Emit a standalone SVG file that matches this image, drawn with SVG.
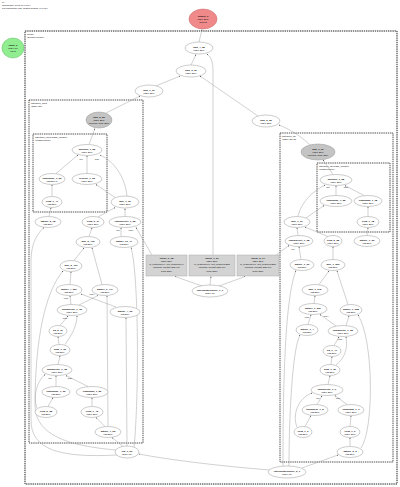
<svg xmlns="http://www.w3.org/2000/svg" width="400" height="487" viewBox="0 0 400 487">
<defs>
<marker id="ah" viewBox="0 0 6 6" refX="5.5" refY="3" markerWidth="3" markerHeight="3" orient="auto"><path d="M0,0 L6,3 L0,6 z" fill="#333"/></marker>
<style>
.n{fill:#fff;stroke:#999;stroke-width:0.5}
.gr{fill:#c4c4c4;stroke:#999;stroke-width:0.5}
.red{fill:#f08a8a;stroke:#c86464;stroke-width:0.5}
.grn{fill:#90ee90;stroke:#5cb85c;stroke-width:0.5}
.box{fill:#d3d3d3;stroke:#aaa;stroke-width:0.5}
.cl{fill:none;stroke:#222;stroke-width:0.8;stroke-dasharray:1.4 0.8}
.clo{stroke-width:1}
.t{font-family:"Liberation Sans",Arial,sans-serif;font-size:2.5px;text-anchor:middle;fill:#111}
.h{font-weight:bold}
.cll{font-family:"Liberation Sans",Arial,sans-serif;font-size:2.5px;fill:#111}
.el{font-family:"Liberation Sans",Arial,sans-serif;font-size:2px;fill:#222;text-anchor:middle}
.e{fill:none;stroke:#999;stroke-width:0.45;marker-end:url(#ah)}
</style>
</defs>
<rect width="400" height="487" fill="#fff"/>
<text class="cll" x="2" y="2.5">M</text>
<text class="cll" x="2" y="5.5">Showcase: feed (8.1.199)</text>
<text class="cll" x="2" y="8.5">PN parameter diff: Graph Nodes: 1,1,984</text>

<g id="clusters">
<rect class="cl clo" x="25" y="31" width="372" height="453"/>
<text class="cll" x="27" y="34.5">Model</text>
<text class="cll" x="27" y="37.5">(DummyModel)</text>
<rect class="cl" x="29" y="100" width="114" height="343"/>
<text class="cll" x="31" y="103.5">attention_mod</text>
<text class="cll" x="31" y="106.5">(SDPAttn)</text>
<rect class="cl" x="33" y="134" width="74" height="78"/>
<text class="cll" x="35" y="137.5">attention_mod.mask_module</text>
<text class="cll" x="35" y="140.5">(MaskModule)</text>
<rect class="cl" x="280" y="133" width="113" height="329"/>
<text class="cll" x="282" y="136.5">attention_as</text>
<text class="cll" x="282" y="139.5">(SDPAttnV2)</text>
<rect class="cl" x="317" y="163" width="73" height="69"/>
<text class="cll" x="319" y="166.5">attention_as.mask_module</text>
<text class="cll" x="319" y="169.5">(MaskModule)</text>
</g>

<g id="connectors">
<path class="e" d="M199,42 L202,29.5"/>
<path class="e" d="M191,65 L196,54.5"/>
<path class="e" d="M213,255 L213,70 Q213,58 207,54"/>
<path class="e" d="M156,86 L180,76"/>
<path class="e" d="M258,116 L200,76"/>
<path class="e" d="M106,113 L140,96"/>
<path class="e" d="M310,145 C300,135 287,128 279,125"/>
<path class="e" d="M89,144.5 L95,128.5"/>
<path class="e" d="M56,173.5 L78,155"/>
<path class="e" d="M87,173.5 L87,156"/>
<path class="e" d="M52,196 L52,185"/>
<path class="e" d="M115,197.5 L96,184.5"/>
<path class="e" d="M127,196 C125,175 112,160 100,155"/>
<path class="e" d="M98,217 L115,207.5"/>
<path class="e" d="M125,216.5 L125,208.5"/>
<path class="e" d="M152,255 L136,227.5"/>
<path class="e" d="M121,236.5 L121,228"/>
<path class="e" d="M49,216.5 L51,208"/>
<path class="e" d="M89,236.5 L92,228"/>
<path class="e" d="M74,260.5 L84,248"/>
<path class="e" d="M102,284.5 L92,248"/>
<path class="e" d="M70,284.5 L71,272"/>
<path class="e" d="M71,304.5 L70,296"/>
<path class="e" d="M79,305 L98,295.5"/>
<path class="e" d="M116,307 L81,294"/>
<path class="e" d="M60,325.5 L68,316"/>
<path class="e" d="M59,344.5 L58,337"/>
<path class="e" d="M65,344.5 C72,335 77,325 77,316"/>
<path class="e" d="M58,364.5 L60,356"/>
<path class="e" d="M56,386.5 L56,376"/>
<path class="e" d="M88,386.5 L66,375.5"/>
<path class="e" d="M48,406.5 L53,397.5"/>
<path class="e" d="M37,408 C33,398 36,382 45,374.5"/>
<path class="e" d="M92,406.5 L92,398"/>
<path class="e" d="M105,426.5 L96,417.5"/>
<path class="e" d="M123,446.5 L112,437.5"/>
<path class="e" d="M270,470 C220,466 170,460 139,454"/>
<path class="e" d="M116,450 C70,446 35,436 35,405 C35,340 45,292 63,271"/>
<path class="e" d="M117,455 C60,458 31,450 31,420 L31,262 C31,242 38,233 44,227.5"/>
<path class="e" d="M108,426 L107,296"/>
<path class="e" d="M127,446 L126,318"/>
<path class="e" d="M134,447 C139,400 139,275 131,247.5"/>
<path class="e" d="M333,174.5 L323,160"/>
<path class="e" d="M336,195.5 L336,186"/>
<path class="e" d="M364,195.5 L345,185.5"/>
<path class="e" d="M368,216.5 L368,207"/>
<path class="e" d="M298,216 C302,200 315,190 325,185"/>
<path class="e" d="M306,218 L324,205.5"/>
<path class="e" d="M298,235.5 L297,228"/>
<path class="e" d="M328,236.5 L305,227"/>
<path class="e" d="M367,235.5 L368,228"/>
<path class="e" d="M276,255 L289,245.5"/>
<path class="e" d="M333,259.5 L333,247"/>
<path class="e" d="M301,259.5 L299,247"/>
<path class="e" d="M319,284.5 L329,271"/>
<path class="e" d="M314,303.5 L315,296"/>
<path class="e" d="M348,304.5 L337,271"/>
<path class="e" d="M336,326 L320,314.5"/>
<path class="e" d="M346,325.5 L349,316"/>
<path class="e" d="M308,324.5 L311,315"/>
<path class="e" d="M334,345.5 L339,337"/>
<path class="e" d="M331,364.5 L332,357"/>
<path class="e" d="M336,365 C345,358 348,348 346,337"/>
<path class="e" d="M328,384.5 L330,376"/>
<path class="e" d="M317,404.5 L322,396"/>
<path class="e" d="M347,404.5 L335,395.5"/>
<path class="e" d="M305,426.5 L311,415.5"/>
<path class="e" d="M297,427 C292,415 298,398 312,393"/>
<path class="e" d="M350,426.5 L351,416"/>
<path class="e" d="M350,446.5 L350,438"/>
<path class="e" d="M302,468 L338,455"/>
<path class="e" d="M283,466.5 C283,400 284,300 296,270.5"/>
<path class="e" d="M289,466 C289,420 292,350 300,335"/>
<path class="e" d="M361,448 C374,430 374,340 358,315"/>
<path class="e" d="M202,286 L175,276.5"/>
<path class="e" d="M210,285 L211,276.5"/>
<path class="e" d="M219,286 L245,276.5"/>
<text class="el" x="81" y="160">self</text>
<text class="el" x="97" y="160">other</text>
<text class="el" x="118" y="231">self</text>
<text class="el" x="131" y="231">index</text>
<text class="el" x="66" y="299">input</text>
<text class="el" x="92" y="295">index</text>
<text class="el" x="65" y="319">input</text>
<text class="el" x="50" y="379">self</text>
<text class="el" x="70" y="379">other</text>
<text class="el" x="328" y="188">self</text>
<text class="el" x="346" y="188">other</text>
<text class="el" x="293" y="250">self</text>
<text class="el" x="307" y="318">input</text>
<text class="el" x="326" y="317">index</text>
<text class="el" x="340" y="340">input</text>
<text class="el" x="318" y="399">self</text>
<text class="el" x="338" y="399">other</text>
</g>

<g id="output_0"><ellipse class="red" cx="203" cy="19" rx="14" ry="10"/><text class="t" x="203" y="16.5"><tspan class="h">output_0</tspan><tspan x="203" dy="3">f32[1,256]</tspan><tspan x="203" dy="3">Output</tspan></text></g>
<g id="input_0"><ellipse class="grn" cx="13" cy="48" rx="11" ry="10"/><text class="t" x="13" y="45.5"><tspan class="h">input_0</tspan><tspan x="13" dy="3">f32[1,10]</tspan><tspan x="13" dy="3">Input</tspan></text></g>
<g id="add_4_38"><ellipse class="n" cx="199" cy="48" rx="14" ry="6"/><text class="t" x="199" y="47.5"><tspan class="h">add_4_38</tspan><tspan x="199" dy="3">f32[1,256]</tspan></text></g>
<g id="add_3_30"><ellipse class="n" cx="191" cy="71" rx="15" ry="6"/><text class="t" x="191" y="70.5"><tspan class="h">add_3_30</tspan><tspan x="191" dy="3">f32[1,256]</tspan></text></g>
<g id="add_1_31"><ellipse class="n" cx="149" cy="91" rx="14" ry="6"/><text class="t" x="149" y="90.5"><tspan class="h">add_1_31</tspan><tspan x="149" dy="3">f32[1,256]</tspan></text></g>
<g id="add_2_32"><ellipse class="n" cx="266" cy="121" rx="14" ry="6"/><text class="t" x="266" y="120.5"><tspan class="h">add_2_32</tspan><tspan x="266" dy="3">f32[1,256]</tspan></text></g>

<g id="linear_0_18"><rect class="box" x="146" y="255" width="41" height="21"/><text class="t" x="166.5" y="258.5"><tspan class="h">linear_0_18</tspan><tspan x="166.5" dy="3.3">f32[1,256]</tspan><tspan x="166.5" dy="3.3">in_features:64, out_features:64</tspan><tspan x="166.5" dy="3.3">params: weight [256,10]</tspan><tspan x="166.5" dy="3.3">bias [256]</tspan></text></g>
<g id="linear_1_27"><rect class="box" x="189" y="255" width="46" height="21"/><text class="t" x="212" y="258.5"><tspan class="h">linear_1_27</tspan><tspan x="212" dy="3.3">f32[1,256]</tspan><tspan x="212" dy="3.3">in_features:10, out_features:256</tspan><tspan x="212" dy="3.3">params: weight [256,10]</tspan><tspan x="212" dy="3.3">bias [256]</tspan></text></g>
<g id="linear_2_17"><rect class="box" x="237" y="255" width="42" height="21"/><text class="t" x="258" y="258.5"><tspan class="h">linear_2_17</tspan><tspan x="258" dy="3.3">f32[1,256]</tspan><tspan x="258" dy="3.3">in_features:10, out_features:256</tspan><tspan x="258" dy="3.3">params: weight [256,10]</tspan><tspan x="258" dy="3.3">bias [256]</tspan></text></g>
<g id="interpolatesource_1_1"><ellipse class="n" cx="210" cy="291" rx="18" ry="6"/><text class="t" x="210" y="290.5"><tspan class="h">interpolatesource_1_1</tspan><tspan x="210" dy="3">f32[1,10]</tspan></text></g>
<g id="flip_1_29"><ellipse class="n" cx="127" cy="452" rx="12" ry="6"/><text class="t" x="127" y="451.5"><tspan class="h">flip_1_29</tspan><tspan x="127" dy="3">f32[1,10]</tspan></text></g>
<g id="interpolatesource_2_1"><ellipse class="n" cx="287" cy="472" rx="19" ry="6"/><text class="t" x="287" y="471.5"><tspan class="h">interpolatesource_2_1</tspan><tspan x="287" dy="3">f32[1,10]</tspan></text></g>

<g id="add_2_23"><ellipse class="gr" cx="99" cy="120" rx="13" ry="8"/><text class="t" x="99" y="117.5"><tspan class="h">add_2_23</tspan><tspan x="99" dy="3">f32[1,256]</tspan><tspan x="99" dy="3">params: bias [256]</tspan></text></g>
<g id="multiply_1_52"><ellipse class="n" cx="87" cy="150" rx="15" ry="5.5"/><text class="t" x="87" y="149.5"><tspan class="h">multiply_1_52</tspan><tspan x="87" dy="3">f32[1,256]</tspan></text></g>
<g id="transpose_1_53"><ellipse class="n" cx="52" cy="179" rx="13" ry="5.5"/><text class="t" x="52" y="178.5"><tspan class="h">transpose_1_53</tspan><tspan x="52" dy="3">f32[256,1]</tspan></text></g>
<g id="reverse_1_53"><ellipse class="n" cx="87" cy="179" rx="15" ry="5.5"/><text class="t" x="87" y="178.5"><tspan class="h">reverse_1_53</tspan><tspan x="87" dy="3">f32[1,256]</tspan></text></g>
<g id="view_1_47"><ellipse class="n" cx="52" cy="202" rx="10" ry="5.5"/><text class="t" x="52" y="201.5"><tspan class="h">view_1_47</tspan><tspan x="52" dy="3">f32[256]</tspan></text></g>
<g id="mul_1_36"><ellipse class="n" cx="125" cy="202" rx="14" ry="6"/><text class="t" x="125" y="201.5"><tspan class="h">mul_1_36</tspan><tspan x="125" dy="3">f32[1,256]</tspan></text></g>
<g id="gather_5_18"><ellipse class="n" cx="48" cy="222" rx="13" ry="5.5"/><text class="t" x="48" y="221.5"><tspan class="h">gather_5_18</tspan><tspan x="48" dy="3">f32[256]</tspan></text></g>
<g id="view_3_17"><ellipse class="n" cx="93" cy="222" rx="11" ry="5.5"/><text class="t" x="93" y="221.5"><tspan class="h">view_3_17</tspan><tspan x="93" dy="3">f32[1,256]</tspan></text></g>
<g id="indexselect_1_38"><ellipse class="n" cx="125" cy="222" rx="16" ry="5.5"/><text class="t" x="125" y="221.5"><tspan class="h">indexselect_1_38</tspan><tspan x="125" dy="3">f32[1,256]</tspan></text></g>
<g id="mul_2_412"><ellipse class="n" cx="88" cy="242" rx="12" ry="5.5"/><text class="t" x="88" y="241.5"><tspan class="h">mul_2_412</tspan><tspan x="88" dy="3">f32[256]</tspan></text></g>
<g id="gather_10_47"><ellipse class="n" cx="124" cy="242" rx="14" ry="5.5"/><text class="t" x="124" y="241.5"><tspan class="h">gather_10_47</tspan><tspan x="124" dy="3">i32[256]</tspan></text></g>
<g id="mul_2_403"><ellipse class="n" cx="71" cy="266" rx="11" ry="5.5"/><text class="t" x="71" y="265.5"><tspan class="h">mul_2_403</tspan><tspan x="71" dy="3">f32[256]</tspan></text></g>
<g id="gather_4_384"><ellipse class="n" cx="69" cy="290" rx="13" ry="5.5"/><text class="t" x="69" y="289.5"><tspan class="h">gather_4_384</tspan><tspan x="69" dy="3">f32[256]</tspan></text></g>
<g id="gather_9_414"><ellipse class="n" cx="105" cy="290" rx="13" ry="5.5"/><text class="t" x="105" y="289.5"><tspan class="h">gather_9_414</tspan><tspan x="105" dy="3">f32[256]</tspan></text></g>
<g id="unsqueeze_1_36"><ellipse class="n" cx="72" cy="310" rx="15" ry="5.5"/><text class="t" x="72" y="309.5"><tspan class="h">unsqueeze_1_36</tspan><tspan x="72" dy="3">f32[1,256]</tspan></text></g>
<g id="gather_4_36"><ellipse class="n" cx="125" cy="312" rx="15" ry="5.5"/><text class="t" x="125" y="311.5"><tspan class="h">gather_4_36</tspan><tspan x="125" dy="3">i32[256]</tspan></text></g>
<g id="sq_2_37"><ellipse class="n" cx="58" cy="331" rx="9" ry="5.5"/><text class="t" x="58" y="330.5"><tspan class="h">sq_2_37</tspan><tspan x="58" dy="3">f32[256]</tspan></text></g>
<g id="pow_1_36"><ellipse class="n" cx="60" cy="350" rx="10" ry="5.5"/><text class="t" x="60" y="349.5"><tspan class="h">pow_1_36</tspan><tspan x="60" dy="3">f32[256]</tspan></text></g>
<g id="unsqueeze_1_35"><ellipse class="n" cx="57" cy="370" rx="15" ry="5.5"/><text class="t" x="57" y="369.5"><tspan class="h">unsqueeze_1_35</tspan><tspan x="57" dy="3">f32[1,256]</tspan></text></g>
<g id="transpose_1_36"><ellipse class="n" cx="56" cy="392" rx="14" ry="5.5"/><text class="t" x="56" y="391.5"><tspan class="h">transpose_1_36</tspan><tspan x="56" dy="3">f32[256]</tspan></text></g>
<g id="expandas_1_23"><ellipse class="n" cx="92" cy="392" rx="16" ry="5.5"/><text class="t" x="92" y="391.5"><tspan class="h">expandas_1_23</tspan><tspan x="92" dy="3">f32[1,256]</tspan></text></g>
<g id="view_2_28"><ellipse class="n" cx="46" cy="412" rx="11" ry="5.5"/><text class="t" x="46" y="411.5"><tspan class="h">view_2_28</tspan><tspan x="46" dy="3">f32[256]</tspan></text></g>
<g id="view_1_42"><ellipse class="n" cx="92" cy="412" rx="11" ry="5.5"/><text class="t" x="92" y="411.5"><tspan class="h">view_1_42</tspan><tspan x="92" dy="3">f32[1,256]</tspan></text></g>
<g id="gather_7_53"><ellipse class="n" cx="108" cy="432" rx="13" ry="5.5"/><text class="t" x="108" y="431.5"><tspan class="h">gather_7_53</tspan><tspan x="108" dy="3">f32[256]</tspan></text></g>

<g id="add_1_27"><ellipse class="gr" cx="318" cy="152" rx="17" ry="8"/><text class="t" x="318" y="149.5"><tspan class="h">add_1_27</tspan><tspan x="318" dy="3">f32[1,256]</tspan><tspan x="318" dy="3">params: bias [256]</tspan></text></g>
<g id="multiply_1_28"><ellipse class="n" cx="336" cy="180" rx="16" ry="5.5"/><text class="t" x="336" y="179.5"><tspan class="h">multiply_1_28</tspan><tspan x="336" dy="3">f32[1,256]</tspan></text></g>
<g id="transpose_1_22"><ellipse class="n" cx="336" cy="201" rx="16" ry="5.5"/><text class="t" x="336" y="200.5"><tspan class="h">transpose_1_22</tspan><tspan x="336" dy="3">f32[1,256]</tspan></text></g>
<g id="expandas_1_18"><ellipse class="n" cx="368" cy="201" rx="14" ry="5.5"/><text class="t" x="368" y="200.5"><tspan class="h">expandas_1_18</tspan><tspan x="368" dy="3">f32[1,256]</tspan></text></g>
<g id="view_1_18"><ellipse class="n" cx="368" cy="222" rx="11" ry="5.5"/><text class="t" x="368" y="221.5"><tspan class="h">view_1_18</tspan><tspan x="368" dy="3">f32[1,256]</tspan></text></g>
<g id="mul_1_37"><ellipse class="n" cx="297" cy="222" rx="13" ry="5.5"/><text class="t" x="297" y="221.5"><tspan class="h">mul_1_37</tspan><tspan x="297" dy="3">f32[1,256]</tspan></text></g>
<g id="indexselect_1_38r"><ellipse class="n" cx="299" cy="241" rx="14" ry="5.5"/><text class="t" x="299" y="240.5"><tspan class="h">indexselect_1_38</tspan><tspan x="299" dy="3">f32[1,256]</tspan></text></g>
<g id="view_2_25"><ellipse class="n" cx="333" cy="241" rx="9" ry="5.5"/><text class="t" x="333" y="240.5"><tspan class="h">view_2_25</tspan><tspan x="333" dy="3">f32[1,256]</tspan></text></g>
<g id="gather_1_36"><ellipse class="n" cx="367" cy="241" rx="13" ry="5.5"/><text class="t" x="367" y="240.5"><tspan class="h">gather_1_36</tspan><tspan x="367" dy="3">f32[256]</tspan></text></g>
<g id="gather_1_39"><ellipse class="n" cx="302" cy="265" rx="12" ry="5.5"/><text class="t" x="302" y="264.5"><tspan class="h">gather_1_39</tspan><tspan x="302" dy="3">i32[256]</tspan></text></g>
<g id="mul_1_363"><ellipse class="n" cx="333" cy="265" rx="12" ry="5.5"/><text class="t" x="333" y="264.5"><tspan class="h">mul_1_363</tspan><tspan x="333" dy="3">f32[256]</tspan></text></g>
<g id="mul_1_345"><ellipse class="n" cx="315" cy="290" rx="13" ry="5.5"/><text class="t" x="315" y="289.5"><tspan class="h">mul_1_345</tspan><tspan x="315" dy="3">f32[256]</tspan></text></g>
<g id="gather_1_357"><ellipse class="n" cx="313" cy="309" rx="14" ry="5.5"/><text class="t" x="313" y="308.5"><tspan class="h">gather_1_357</tspan><tspan x="313" dy="3">f32[256]</tspan></text></g>
<g id="gather_1_352"><ellipse class="n" cx="351" cy="310" rx="11" ry="5.5"/><text class="t" x="351" y="309.5"><tspan class="h">gather_1_352</tspan><tspan x="351" dy="3">f32[256]</tspan></text></g>
<g id="gather_1_4"><ellipse class="n" cx="307" cy="330" rx="11" ry="5.5"/><text class="t" x="307" y="329.5"><tspan class="h">gather_1_4</tspan><tspan x="307" dy="3">i32[256]</tspan></text></g>
<g id="unsqueeze_1_52"><ellipse class="n" cx="343" cy="331" rx="15" ry="5.5"/><text class="t" x="343" y="330.5"><tspan class="h">unsqueeze_1_52</tspan><tspan x="343" dy="3">f32[1,256]</tspan></text></g>
<g id="sq_1_41"><ellipse class="n" cx="332" cy="351" rx="9" ry="5.5"/><text class="t" x="332" y="350.5"><tspan class="h">sq_1_41</tspan><tspan x="332" dy="3">f32[256]</tspan></text></g>
<g id="pow_1_36r"><ellipse class="n" cx="330" cy="370" rx="10" ry="5.5"/><text class="t" x="330" y="369.5"><tspan class="h">pow_1_36</tspan><tspan x="330" dy="3">f32[256]</tspan></text></g>
<g id="unsqueeze_1_9"><ellipse class="n" cx="327" cy="390" rx="16" ry="5.5"/><text class="t" x="327" y="389.5"><tspan class="h">unsqueeze_1_9</tspan><tspan x="327" dy="3">f32[1,256]</tspan></text></g>
<g id="transpose_1_8"><ellipse class="n" cx="315" cy="410" rx="13" ry="5.5"/><text class="t" x="315" y="409.5"><tspan class="h">transpose_1_8</tspan><tspan x="315" dy="3">f32[256]</tspan></text></g>
<g id="expandas_1_9"><ellipse class="n" cx="351" cy="410" rx="13" ry="5.5"/><text class="t" x="351" y="409.5"><tspan class="h">expandas_1_9</tspan><tspan x="351" dy="3">f32[1,256]</tspan></text></g>
<g id="view_1_3"><ellipse class="n" cx="303" cy="432" rx="9" ry="5.5"/><text class="t" x="303" y="431.5"><tspan class="h">view_1_3</tspan><tspan x="303" dy="3">f32[256]</tspan></text></g>
<g id="view_1_6"><ellipse class="n" cx="350" cy="432" rx="10" ry="5.5"/><text class="t" x="350" y="431.5"><tspan class="h">view_1_6</tspan><tspan x="350" dy="3">f32[1,256]</tspan></text></g>
<g id="gather_2_3"><ellipse class="n" cx="350" cy="452" rx="13" ry="5.5"/><text class="t" x="350" y="451.5"><tspan class="h">gather_2_3</tspan><tspan x="350" dy="3">f32[256]</tspan></text></g>
</svg>
